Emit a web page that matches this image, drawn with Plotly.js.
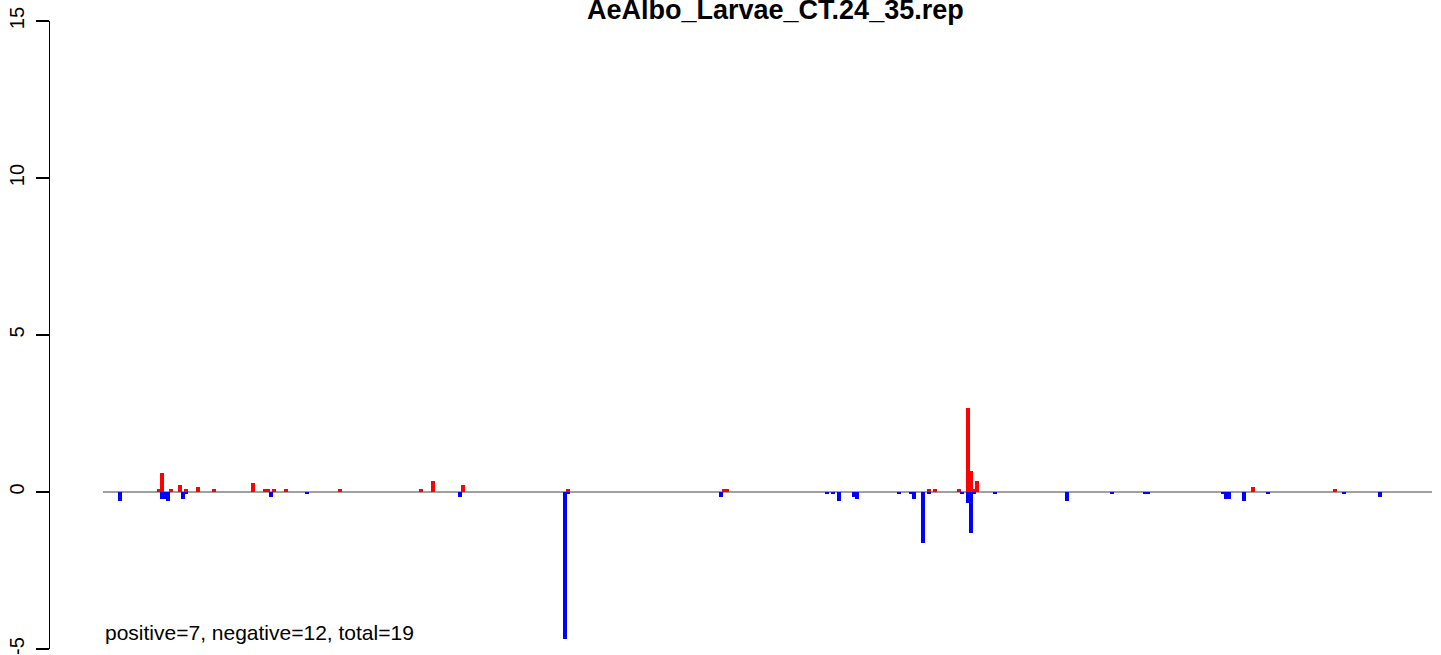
<!DOCTYPE html>
<html>
<head>
<meta charset="utf-8">
<script src="https://cdn.plot.ly/plotly-3.0.1.min.js"></script>
<style>html,body{margin:0;padding:0;background:#fff;}#chart{width:1441px;height:655px;}</style>
</head>
<body>
<div id="chart"></div>
<script>
// Positions (arbitrary genomic bin coordinate) and values
const posPositions = [56, 59, 68, 77, 83, 95, 111, 150, 162, 165, 171, 183, 237, 318, 330, 360, 465, 621, 624, 826, 832, 856, 865, 868, 871, 874, 1150, 1232];
const posValues    = [0.09, 0.60, 0.09, 0.21, 0.09, 0.15, 0.09, 0.28, 0.09, 0.09, 0.09, 0.09, 0.09, 0.09, 0.34, 0.21, 0.09, 0.09, 0.09, 0.09, 0.09, 0.09, 2.67, 0.66, 0.09, 0.34, 0.15, 0.09];

const negPositions = [17, 59, 62, 65, 80, 83, 168, 204, 357, 462, 465, 618, 724, 730, 736, 751, 754, 796, 808, 811, 820, 826, 859, 865, 868, 871, 892, 964, 1009, 1042, 1045, 1120, 1123, 1126, 1141, 1165, 1241, 1277];
const negValues    = [-0.28, -0.21, -0.21, -0.29, -0.21, -0.07, -0.16, -0.07, -0.16, -4.69, -0.07, -0.17, -0.07, -0.07, -0.29, -0.16, -0.22, -0.07, -0.07, -0.22, -1.63, -0.07, -0.07, -0.35, -1.31, -0.07, -0.07, -0.29, -0.07, -0.07, -0.07, -0.07, -0.22, -0.22, -0.29, -0.07, -0.07, -0.16];

const yTicks = [-5, 0, 5, 10, 15];
const yTickLabels = ["-5", "0", "5", "10", "15"];
const chartTitle = "AeAlbo_Larvae_CT.24_35.rep";
const nPositive = 7, nNegative = 12;
const summaryText = "positive=" + nPositive + ", negative=" + nNegative + ", total=" + (nPositive + nNegative);
const genomeStart = 0, genomeEnd = 1329;

const barWidth = 4;
const traces = [
  {type: 'bar', x: negPositions, y: negValues, width: negPositions.map(() => barWidth),
   marker: {color: '#0000FF', line: {width: 0}}, hoverinfo: 'x+y', showlegend: false},
  {type: 'bar', x: posPositions, y: posValues, width: posPositions.map(() => barWidth),
   marker: {color: '#FF0000', line: {width: 0}}, hoverinfo: 'x+y', showlegend: false}
];

const font = "Liberation Sans, Arial, Helvetica, sans-serif";
const layout = {
  width: 1441, height: 655,
  margin: {l: 50, r: 0, t: 21, b: 6, pad: 0},
  paper_bgcolor: '#ffffff', plot_bgcolor: '#ffffff',
  barmode: 'overlay', bargap: 0,
  showlegend: false,
  xaxis: {range: [-53, 1338], visible: false, showgrid: false, zeroline: false, fixedrange: true},
  yaxis: {
    range: [-5, 15], tickmode: 'array', tickvals: yTicks, ticktext: yTickLabels,
    tickangle: -90, ticks: 'outside', ticklen: 13, tickwidth: 1.3, tickcolor: '#000',
    showline: true, linecolor: '#000', linewidth: 1.3, showgrid: false, zeroline: false,
    tickfont: {family: font, size: 20, color: '#000'}, ticklabelstandoff: 4, fixedrange: true
  },
  shapes: [
    {type: 'line', xref: 'x', yref: 'y', x0: genomeStart, x1: genomeEnd, y0: 0, y1: 0,
     line: {color: '#A0A0A0', width: 2}, layer: 'below'}
  ],
  annotations: [
    {text: '<b>' + chartTitle + '</b>', xref: 'paper', yref: 'paper', x: 0.5215, y: 1,
     xanchor: 'center', yanchor: 'bottom', yshift: -6, showarrow: false,
     font: {family: font, size: 27, color: '#000'}},
    {text: summaryText, xref: 'x', yref: 'y', x: genomeStart, y: -4.47,
     xanchor: 'left', yanchor: 'middle', showarrow: false,
     font: {family: font, size: 21, color: '#000'}}
  ]
};

Plotly.newPlot('chart', traces, layout, {displayModeBar: false, staticPlot: true});
</script>
</body>
</html>
